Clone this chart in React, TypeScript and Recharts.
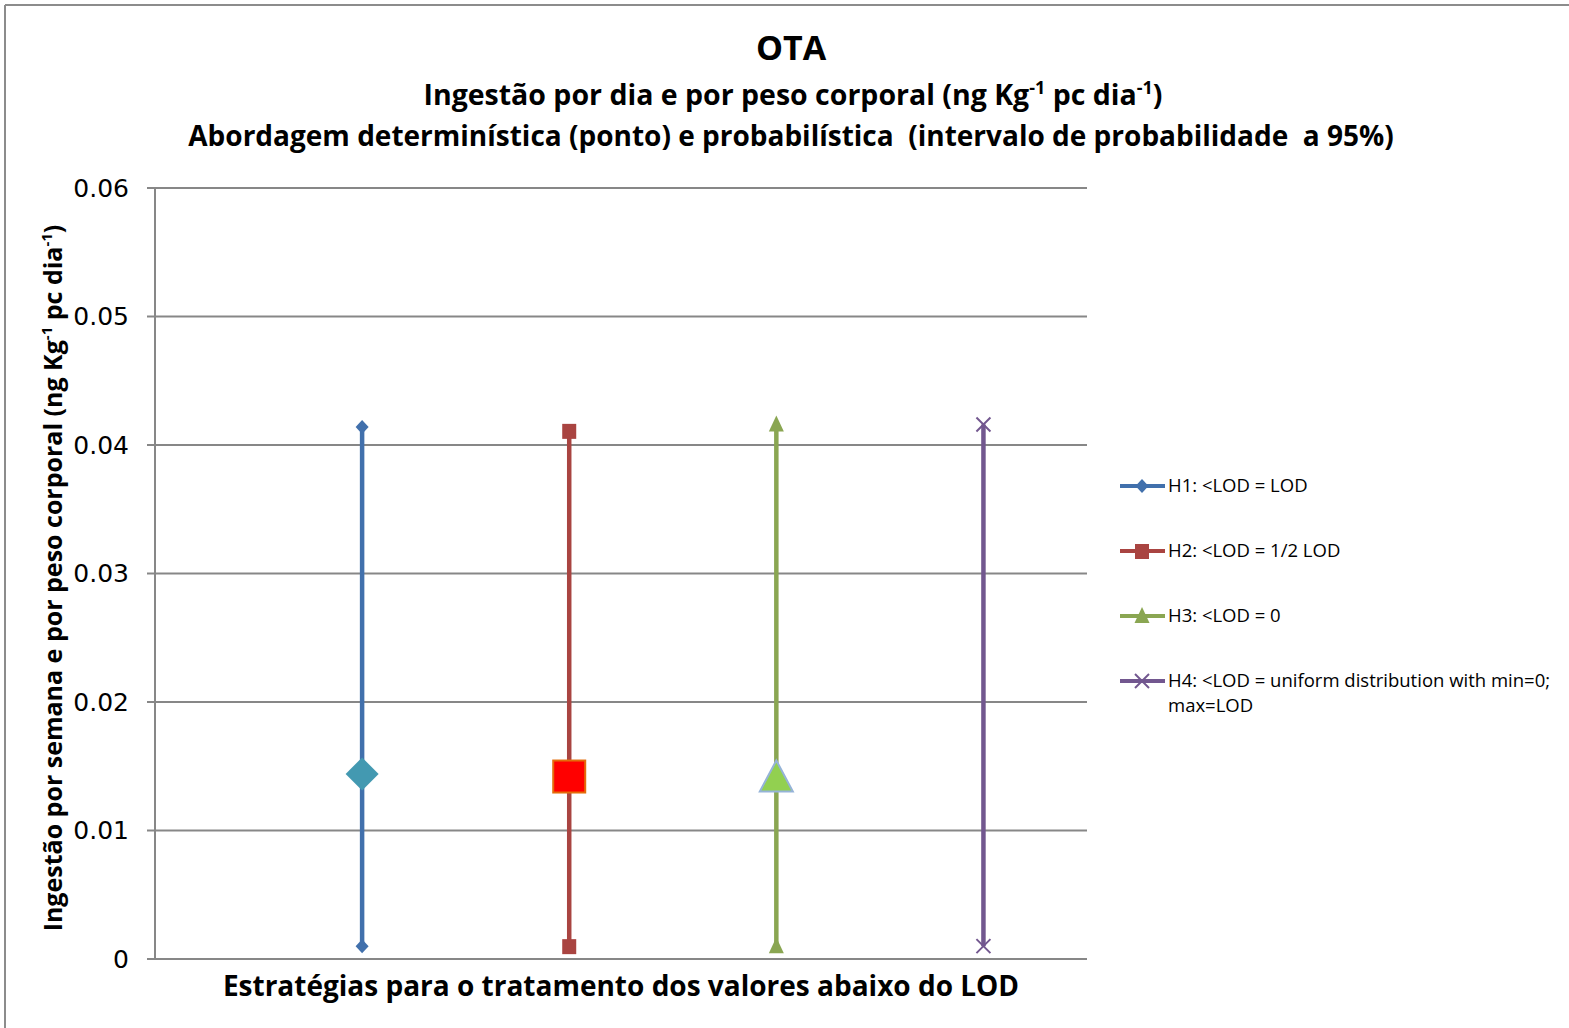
import React from "react";
import { ComposedChart, Line, Scatter, XAxis, YAxis, CartesianGrid } from "recharts";

const categories = [
  "H1: <LOD = LOD",
  "H2: <LOD = 1/2 LOD",
  "H3: <LOD = 0",
  "H4: <LOD = uniform distribution with min=0; max=LOD",
];
const categoryPositions = [1, 2, 3, 4];
const lowerBounds = [0.001, 0.001, 0.001, 0.001];
const upperBounds = [0.0414, 0.0411, 0.0416, 0.0416];
const deterministicValues = [0.0144, 0.0142, 0.01405, null];
const yTicks = [0, 0.01, 0.02, 0.03, 0.04, 0.05, 0.06];

const lineColors = ["#4170AC", "#A94441", "#8AA652", "#72578F"];
const markerKinds = ["diamond", "square", "triangle", "x"];
const bigFills = ["#4399B1", "#FF0000", "#92D050"];
const bigStrokes = ["#4399B1", "#E46C0A", "#95B3D7"];

const W = 1569;
const H = 1028;
const FONT = "'Open Sans', 'Noto Sans', sans-serif";

function SmallMarker({ kind, cx, cy, color }: { kind: string; cx: number; cy: number; color: string }) {
  if (kind === "diamond") {
    const r = 7;
    return <polygon points={`${cx},${cy - r} ${cx + 6.5},${cy} ${cx},${cy + r} ${cx - 6.5},${cy}`} fill={color} />;
  }
  if (kind === "square") {
    return <rect x={cx - 7} y={cy - 7} width={14} height={15} fill={color} />;
  }
  if (kind === "triangle") {
    return <polygon points={`${cx},${cy - 9} ${cx + 7.5},${cy + 7} ${cx - 7.5},${cy + 7}`} fill={color} />;
  }
  return (
    <g stroke={color} strokeWidth={2}>
      <line x1={cx - 7} y1={cy - 7} x2={cx + 7} y2={cy + 7} />
      <line x1={cx - 7} y1={cy + 7} x2={cx + 7} y2={cy - 7} />
    </g>
  );
}

function BigMarker(props: any) {
  const { cx, cy, payload } = props;
  const i = payload.idx;
  if (cx == null || cy == null) return null;
  if (i === 0) {
    const r = 16.5;
    return <polygon points={`${cx},${cy - r} ${cx + r},${cy} ${cx},${cy + r} ${cx - r},${cy}`} fill={bigFills[0]} />;
  }
  if (i === 1) {
    return <rect x={cx - 16} y={cy - 16} width={32} height={32} fill={bigFills[1]} stroke={bigStrokes[1]} strokeWidth={2} />;
  }
  return (
    <polygon
      points={`${cx},${cy - 18} ${cx + 16.5},${cy + 13} ${cx - 16.5},${cy + 13}`}
      fill={bigFills[2]}
      stroke={bigStrokes[2]}
      strokeWidth={2}
    />
  );
}

const seriesData = categories.map((_, i) => [
  { x: categoryPositions[i], y: lowerBounds[i] },
  { x: categoryPositions[i], y: upperBounds[i] },
]);

const pointData = deterministicValues
  .map((v, i) => ({ x: categoryPositions[i], y: v, idx: i }))
  .filter((d) => d.y !== null);

const pre: React.CSSProperties = { whiteSpace: "pre" };

export default function App() {
  return (
    <div style={{ position: "absolute", left: 0, top: 0, width: W, height: H, background: "#fff" }}>
      <ComposedChart width={W} height={H} margin={{ top: 188, right: 482, bottom: 69, left: 0 }}>
        <CartesianGrid horizontal vertical={false} stroke="#878787" strokeWidth={2} />
        <XAxis type="number" dataKey="x" domain={[0, 4.5]} hide />
        <YAxis
          type="number"
          domain={[0, 0.06]}
          ticks={yTicks}
          width={155}
          tickSize={8}
          tickMargin={18}
          axisLine={{ stroke: "#878787", strokeWidth: 2 }}
          tickLine={{ stroke: "#878787", strokeWidth: 2 }}
          tick={{ fill: "#000", fontSize: 25, fontFamily: "'DejaVu Sans', sans-serif" }}
          tickFormatter={(v: number) => (v === 0 ? "0" : v.toFixed(2))}
          interval={0}
        />
        {seriesData.map((d, i) => (
          <Line
            key={categories[i]}
            data={d}
            dataKey="y"
            type="linear"
            stroke={lineColors[i]}
            strokeWidth={4.5}
            isAnimationActive={false}
            dot={(p: any) => (
              <SmallMarker key={`${i}-${p.index}`} kind={markerKinds[i]} cx={p.cx} cy={p.cy} color={lineColors[i]} />
            )}
            activeDot={false}
          />
        ))}
        <Scatter data={pointData} dataKey="y" isAnimationActive={false} shape={BigMarker} />
      </ComposedChart>
      <svg width={W} height={H} style={{ position: "absolute", left: 0, top: 0, pointerEvents: "none" }}>
        <line x1={5} y1={5} x2={W} y2={5} stroke="#8c8c8c" strokeWidth={2} />
        <line x1={5} y1={5} x2={5} y2={H} stroke="#8c8c8c" strokeWidth={2} />
        <text x={791} y={60} textAnchor="middle" fontFamily={FONT} fontWeight="bold" fontSize={34} fill="#000">
          OTA
        </text>
        <text x={793} y={105} textAnchor="middle" fontFamily={FONT} fontWeight="bold" fontSize={28.5} fill="#000">
          Ingestão por dia e por peso corporal (ng Kg
          <tspan dy={-11} fontSize={18}>-1</tspan>
          <tspan dy={11}> pc dia</tspan>
          <tspan dy={-11} fontSize={18}>-1</tspan>
          <tspan dy={11}>)</tspan>
        </text>
        <text x={791} y={146} textAnchor="middle" fontFamily={FONT} fontWeight="bold" fontSize={28} fill="#000" style={pre}>
          {"Abordagem determinística (ponto) e probabilística  (intervalo de probabilidade  a 95%)"}
        </text>
        <text
          x={0}
          y={0}
          transform="translate(62,578) rotate(-90)"
          textAnchor="middle"
          fontFamily={FONT}
          fontWeight="bold"
          fontSize={25}
          fill="#000"
        >
          Ingestão por semana e por peso corporal (ng Kg
          <tspan dy={-10} fontSize={15}>-1</tspan>
          <tspan dy={10}> pc dia</tspan>
          <tspan dy={-10} fontSize={15}>-1</tspan>
          <tspan dy={10}>)</tspan>
        </text>
        <text x={621} y={996} textAnchor="middle" fontFamily={FONT} fontWeight="bold" fontSize={28} fill="#000">
          Estratégias para o tratamento dos valores abaixo do LOD
        </text>
        {categories.map((c, i) => {
          const y = 486 + i * 65;
          const parts = i === 3 ? ["H4: <LOD = uniform distribution with min=0;", "max=LOD"] : [c];
          return (
            <g key={c}>
              <line x1={1120} y1={y} x2={1165} y2={y} stroke={lineColors[i]} strokeWidth={4} />
              <SmallMarker kind={markerKinds[i]} cx={1142} cy={y} color={lineColors[i]} />
              {parts.map((t, j) => (
                <text key={t} x={1168} y={y + 6 + j * 25} fontFamily={FONT} fontSize={18.5} fill="#000">
                  {t}
                </text>
              ))}
            </g>
          );
        })}
      </svg>
    </div>
  );
}
